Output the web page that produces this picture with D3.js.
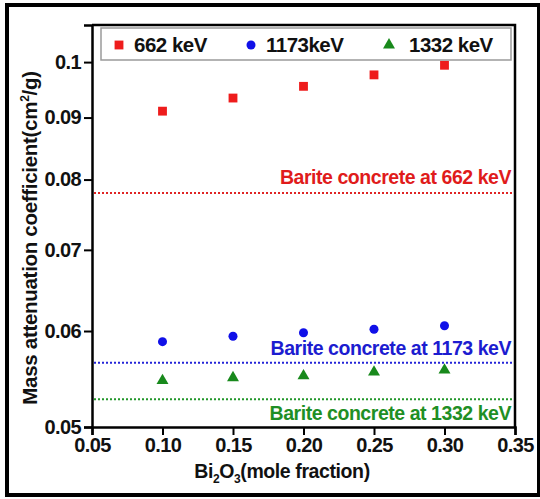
<!DOCTYPE html>
<html>
<head>
<meta charset="utf-8">
<script src="https://cdn.jsdelivr.net/npm/d3@7"></script>
<style>
  body { margin: 0; background: #fff; }
  text { font-family: "Liberation Sans", Arial, sans-serif; font-weight: bold; }
</style>
</head>
<body>
<div id="chart"></div>
<script>
//----------------------------------------------------------------
// données
//----------------------------------------------------------------
var fractions = [0.10, 0.15, 0.20, 0.25, 0.30];
var val662  = [0.0911, 0.0934, 0.0955, 0.0976, 0.0994];
var val1173 = [0.0588, 0.0594, 0.0598, 0.0602, 0.0606];
var val1332 = [0.0546, 0.0549, 0.0551, 0.0555, 0.0557];

var barite = [0.0780, 0.0565, 0.0527];
var bariteLabels = ["Barite concrete at 662 keV", "Barite concrete at 1173 keV", "Barite concrete at 1332 keV"];
var seriesNames = ["662 keV", "1173keV", "1332 keV"];

var xTicks = [0.05, 0.10, 0.15, 0.20, 0.25, 0.30, 0.35];
var yTicks = [0.05, 0.06, 0.07, 0.08, 0.09, 0.1];
var yTickLabels = ["0.05", "0.06", "0.07", "0.08", "0.09", "0.1"];

var couleurs = ["#ee1c1c", "#1010e8", "#18891c"];
var couleursLignes = ["#e02424", "#2424d8", "#22962a"];
var couleursTextes = ["#e01b1b", "#1c1cd0", "#1f8f25"];

//----------------------------------------------------------------
// svg
//----------------------------------------------------------------
var largeurSvg = 540, hauteurSvg = 499;
var marges = {haut: 25, droite: 25, bas: 72, gauche: 92};
var largeur = largeurSvg - marges.gauche - marges.droite,
    hauteur = hauteurSvg - marges.haut - marges.bas;

var svg = d3.select("#chart").append("svg")
    .attr("width", largeurSvg)
    .attr("height", hauteurSvg);

// cadre extérieur
svg.append("rect")
    .attr("x", 7).attr("y", 5)
    .attr("width", 532).attr("height", 490)
    .attr("fill", "none")
    .attr("stroke", "#000")
    .attr("stroke-width", 4);

var g = svg.append("g")
    .attr("transform", "translate(" + marges.gauche + "," + marges.haut + ")");

var x = d3.scaleLinear().domain([0.05, 0.35]).range([0, largeur]);
var y = d3.scaleLog().domain([0.05, 0.1073]).range([hauteur, 0]);

// axes
var axeX = g.append("g")
    .attr("transform", "translate(0," + hauteur + ")")
    .call(d3.axisBottom(x).tickValues(xTicks).tickFormat(d3.format(".2f")).tickSizeOuter(0).tickSize(8).tickPadding(3));
var axeY = g.append("g")
    .call(d3.axisLeft(y).tickValues(yTicks).tickFormat(function(d, i) { return yTickLabels[i]; }).tickSizeOuter(0).tickSize(8).tickPadding(3));

[axeX, axeY].forEach(function(a) {
    a.selectAll("path").attr("stroke-width", 2.5);
    a.selectAll("line").attr("stroke-width", 2);
    a.selectAll("text").attr("font-size", 20).attr("fill", "#111")
        .style("letter-spacing", "-0.6px")
        .style("font-family", "'Liberation Sans', Arial, sans-serif").style("font-weight", "bold");
});

// cadre du graphique (haut et droite)
g.append("path")
    .attr("d", "M0,0H" + largeur + "V" + hauteur)
    .attr("fill", "none")
    .attr("stroke", "#000")
    .attr("stroke-width", 2.5);

// lignes de référence (béton barytique)
barite.forEach(function(v, i) {
    g.append("line")
        .attr("x1", x(0.05) + 2).attr("x2", x(0.35) - 2)
        .attr("y1", y(v)).attr("y2", y(v))
        .attr("stroke", couleursLignes[i])
        .attr("stroke-width", 2)
        .attr("stroke-dasharray", "2,2");
});
var decalTexte = [-9, -8, 21];
barite.forEach(function(v, i) {
    g.append("text")
        .attr("x", x(0.35) - 4)
        .attr("y", y(v) + decalTexte[i])
        .attr("text-anchor", "end")
        .attr("font-size", 19.5)
        .style("letter-spacing", "-0.45px")
        .attr("fill", couleursTextes[i])
        .text(bariteLabels[i]);
});

// symboles
var symboles = [d3.symbolSquare, d3.symbolCircle, d3.symbolTriangle];
var tailles = [78, 64, 62];
[val662, val1173, val1332].forEach(function(serie, s) {
    g.append("g").selectAll("path")
        .data(serie)
        .enter().append("path")
            .attr("d", d3.symbol().type(symboles[s]).size(tailles[s]))
            .attr("transform", function(d, i) { return "translate(" + x(fractions[i]) + "," + y(d) + ")"; })
            .attr("fill", couleurs[s]);
});

// légende
var legende = g.append("g").attr("transform", "translate(9,3)");
legende.append("rect")
    .attr("width", 410).attr("height", 32)
    .attr("fill", "#fff")
    .attr("stroke", "#9a9a9a")
    .attr("stroke-width", 1.5);
var posLegende = [18, 150, 288];
seriesNames.forEach(function(nom, s) {
    legende.append("path")
        .attr("d", d3.symbol().type(symboles[s]).size(tailles[s]))
        .attr("transform", "translate(" + posLegende[s] + ",17)")
        .attr("fill", couleurs[s]);
    legende.append("text")
        .attr("x", posLegende[s] + (s == 2 ? 20 : 15))
        .attr("y", 24)
        .attr("font-size", 20.5)
        .style("letter-spacing", "-0.5px")
        .attr("fill", "#111")
        .text(nom);
});

// titres des axes
var titreX = svg.append("text")
    .attr("x", 282)
    .attr("y", 478)
    .attr("text-anchor", "middle")
    .attr("font-size", 19.5)
    .style("letter-spacing", "-0.4px")
    .attr("fill", "#111");
titreX.append("tspan").text("Bi");
titreX.append("tspan").attr("font-size", 12).attr("dy", 5).text("2");
titreX.append("tspan").attr("dy", -5).text("O");
titreX.append("tspan").attr("font-size", 12).attr("dy", 5).text("3");
titreX.append("tspan").attr("dy", -5).text("(mole fraction)");

var titreY = svg.append("text")
    .attr("transform", "translate(37,238) rotate(-90)")
    .attr("text-anchor", "middle")
    .attr("font-size", 20.5)
    .style("letter-spacing", "-0.3px")
    .attr("fill", "#111");
titreY.append("tspan").text("Mass attenuation coefficient(cm");
titreY.append("tspan").attr("font-size", 12).attr("dy", -8).text("2");
titreY.append("tspan").attr("dy", 8).text("/g)");
</script>
</body>
</html>
